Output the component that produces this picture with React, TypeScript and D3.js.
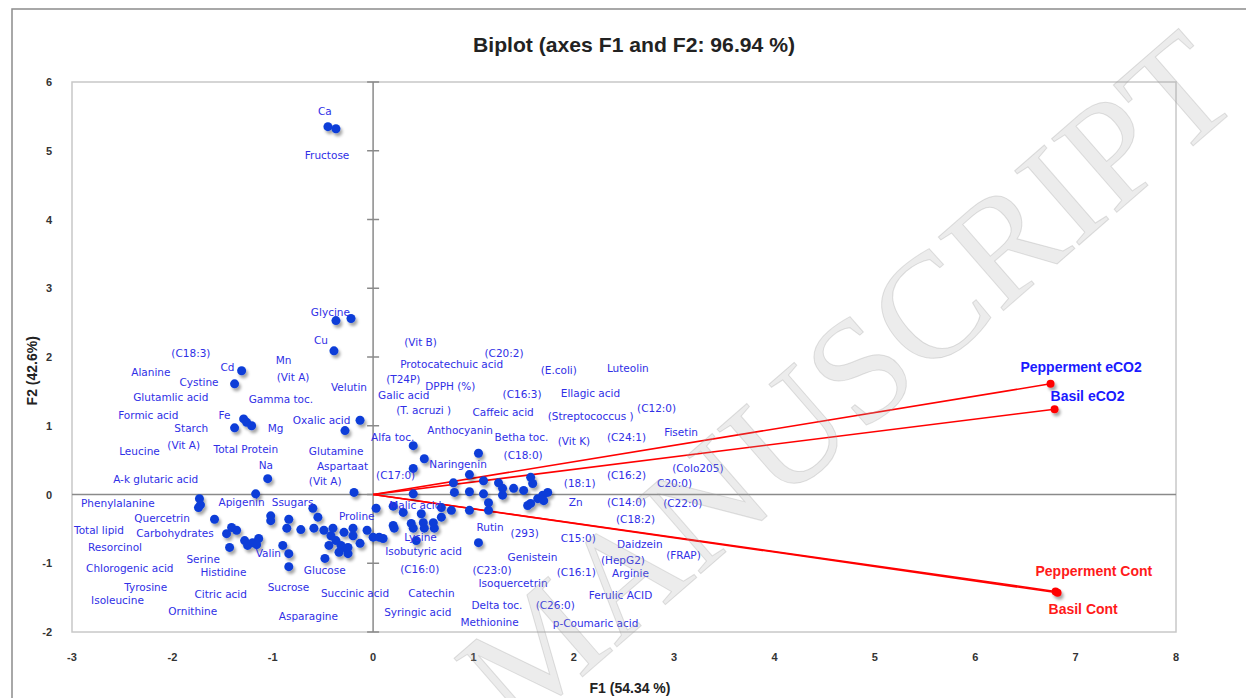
import React from "react";
import * as d3 from "d3";

// ---- axis ticks ----
const xTicks = [-3, -2, -1, 0, 1, 2, 3, 4, 5, 6, 7, 8];
const yTicks = [-2, -1, 0, 1, 2, 3, 4, 5, 6];

// ---- variables (F1, F2) ----
const varPoints: [number, number][] = [
  [-0.45, 5.35], [-0.37, 5.32], [-0.37, 2.53], [-0.22, 2.56], [-0.39, 2.09],
  [-1.31, 1.8], [-1.38, 1.61], [-1.29, 1.1], [-1.26, 1.05], [-1.21, 1.0],
  [-1.38, 0.97], [-0.13, 1.08], [-0.28, 0.93], [-1.05, 0.23], [-1.17, 0.01],
  [-0.19, 0.03], [-1.73, -0.06], [-1.72, -0.15], [-1.74, -0.19], [-1.58, -0.36],
  [-1.41, -0.48], [-1.36, -0.52], [-1.46, -0.57], [-1.43, -0.77], [-1.28, -0.67],
  [-1.25, -0.74], [-1.2, -0.7], [-1.14, -0.64], [-1.16, -0.73], [-1.02, -0.31],
  [-1.02, -0.38], [-0.84, -0.36], [-0.86, -0.49], [-0.72, -0.51], [-0.9, -0.74],
  [-0.84, -0.86], [-0.84, -1.05], [-0.6, -0.2], [-0.55, -0.33], [-0.59, -0.49],
  [-0.49, -0.52], [-0.42, -0.6], [-0.37, -0.67], [-0.32, -0.74], [-0.27, -0.78],
  [-0.44, -0.74], [-0.34, -0.84], [-0.4, -0.49], [-0.29, -0.55], [-0.48, -0.93],
  [-0.2, -0.49], [-0.2, -0.6], [-0.25, -0.77], [-0.25, -0.86], [-0.13, -0.71],
  [-0.06, -0.52], [0.0, -0.62], [0.1, -0.64], [0.03, -0.2],
  [0.4, 0.71], [0.51, 0.52], [0.4, 0.38], [0.4, 0.01], [1.05, 0.6],
  [0.96, 0.29], [0.8, 0.17], [0.81, 0.03], [0.96, 0.04], [1.1, 0.2],
  [1.1, 0.01], [1.25, 0.17], [1.29, 0.09], [1.29, -0.01], [1.4, 0.09],
  [1.5, 0.06], [1.57, 0.25], [1.59, 0.16], [1.54, -0.16], [1.57, -0.13],
  [1.64, -0.06], [1.69, -0.01], [1.74, 0.03], [1.7, -0.09], [1.15, -0.12],
  [1.15, -0.23], [0.96, -0.23], [0.78, -0.23], [0.68, -0.19], [0.68, -0.33],
  [1.05, -0.7], [0.48, -0.28], [0.5, -0.41], [0.51, -0.49], [0.6, -0.41],
  [0.61, -0.49], [0.38, -0.42], [0.4, -0.49], [0.43, -0.67], [0.3, -0.26],
  [0.2, -0.17], [0.2, -0.45], [0.06, -0.62], [0.21, -0.49],
];

// ---- variable labels (name, F1, F2 of label) ----
const varLabels: [string, number, number][] = [
  ["Ca", -0.55, 5.57], ["Fructose", -0.68, 4.93], ["Glycine", -0.62, 2.65],
  ["Cu", -0.59, 2.24], ["(C18:3)", -2.01, 2.05], ["Alanine", -2.41, 1.77],
  ["Cd", -1.52, 1.85], ["Mn", -0.97, 1.95], ["Cystine", -1.93, 1.63],
  ["(Vit A)", -0.96, 1.7], ["Velutin", -0.42, 1.56], ["Glutamlic acid", -2.39, 1.41],
  ["Gamma toc.", -1.24, 1.38], ["Formic  acid", -2.54, 1.15], ["Fe", -1.54, 1.15],
  ["Oxalic acid", -0.8, 1.08], ["Starch", -1.98, 0.96], ["Mg", -1.05, 0.96],
  ["Leucine", -2.53, 0.63], ["(Vit A)", -2.05, 0.71], ["Total Protein", -1.59, 0.65],
  ["Glutamine", -0.64, 0.63], ["Na", -1.14, 0.42], ["Aspartaat", -0.56, 0.41],
  ["A-k  glutaric acid", -2.59, 0.22], ["(Vit A)", -0.64, 0.19],
  ["Phenylalanine", -2.91, -0.13], ["Apigenin", -1.54, -0.12], ["Ssugars", -1.01, -0.12],
  ["Quercetrin", -2.38, -0.35], ["Proline", -0.34, -0.32], ["Total lipid", -2.98, -0.52],
  ["Carbohydrates", -2.36, -0.57], ["Resorcinol", -2.84, -0.77], ["Valin", -1.17, -0.86],
  ["Serine", -1.86, -0.94], ["Chlorogenic acid", -2.86, -1.08], ["Histidine", -1.72, -1.13],
  ["Glucose", -0.69, -1.1], ["Tyrosine", -2.48, -1.35], ["Sucrose", -1.05, -1.35],
  ["Succinic  acid", -0.52, -1.44], ["Citric acid", -1.78, -1.45], ["Isoleucine", -2.81, -1.54],
  ["Ornithine", -2.04, -1.7], ["Asparagine", -0.94, -1.77],
  ["(Vit B)", 0.31, 2.22], ["(C20:2)", 1.11, 2.05], ["Protocatechuic acid", 0.27, 1.89],
  ["(E.coli)", 1.67, 1.8], ["Luteolin", 2.33, 1.83], ["(T24P)", 0.13, 1.67],
  ["DPPH (%)", 0.52, 1.58], ["Galic acid", 0.05, 1.44], ["(C16:3)", 1.29, 1.45],
  ["Ellagic acid", 1.87, 1.47], ["(T. acruzi )", 0.23, 1.22], ["Caffeic acid", 0.99, 1.19],
  ["(Streptococcus )", 1.74, 1.13], ["(C12:0)", 2.63, 1.25], ["Anthocyanin", 0.54, 0.93],
  ["Alfa toc.", -0.02, 0.83], ["Betha toc.", 1.21, 0.83], ["(Vit K)", 1.84, 0.77],
  ["(C24:1)", 2.33, 0.83], ["Fisetin", 2.9, 0.9], ["(C18:0)", 1.3, 0.57],
  ["Naringenin", 0.56, 0.44], ["(C17:0)", 0.03, 0.28], ["(18:1)", 1.9, 0.16],
  ["(C16:2)", 2.33, 0.28], ["(Colo205)", 2.98, 0.38], ["C20:0)", 2.83, 0.16],
  ["Zn", 1.95, -0.12], ["(C14:0)", 2.33, -0.12], ["(C22:0)", 2.89, -0.13],
  ["(C18:2)", 2.42, -0.36], ["Malic acid", 0.16, -0.16], ["Rutin", 1.03, -0.48],
  ["(293)", 1.37, -0.57], ["C15:0)", 1.87, -0.64], ["Lysine", 0.31, -0.63],
  ["Daidzein", 2.43, -0.73], ["(FRAP)", 2.92, -0.89], ["Isobutyric acid", 0.12, -0.83],
  ["Genistein", 1.34, -0.92], ["(HepG2)", 2.27, -0.96], ["(C16:0)", 0.27, -1.09],
  ["(C23:0)", 0.99, -1.1], ["(C16:1)", 1.83, -1.13], ["Arginie", 2.38, -1.15],
  ["Isoquercetrin", 1.05, -1.29], ["Catechin", 0.35, -1.44], ["Ferulic ACID", 2.15, -1.47],
  ["Delta toc.", 0.98, -1.61], ["(C26:0)", 1.62, -1.61], ["Syringic acid", 0.11, -1.72],
  ["Methionine", 0.87, -1.86], ["p-Coumaric acid", 1.79, -1.88],
];

// ---- observations ----
const obsNames = ["Pepperment eCO2", "Basil eCO2", "Pepperment Cont", "Basil Cont"];
const obsF1 = [6.75, 6.79, 6.8, 6.82];
const obsF2 = [1.61, 1.24, -1.41, -1.43];
const obsLabelF1 = [6.45, 6.75, 6.6, 6.73];
const obsLabelF2 = [1.86, 1.43, -1.12, -1.67];
const obsLabelColor = ["#1a1aff", "#1a1aff", "#ff1a1a", "#ff1a1a"];

const W = 1246;
const H = 698;

export default function App() {
  const x = d3.scaleLinear().domain([-3, 8]).range([72, 1176]);
  const y = d3.scaleLinear().domain([-2, 6]).range([632, 82]);
  const labelFont = "'DejaVu Sans', Verdana, sans-serif";

  return (
    <svg
      width={W}
      height={H}
      style={{ position: "absolute", left: 0, top: 0, background: "#fff" }}
    >
      <defs>
        <filter id="shadow" x="-50%" y="-50%" width="200%" height="200%">
          <feDropShadow dx="2" dy="3" stdDeviation="1.5" floodColor="#000" floodOpacity="0.35" />
        </filter>
      </defs>

      {/* chart frame */}
      <rect x={12} y={9} width={W} height={H} fill="none" stroke="#8c8c8c" strokeWidth={1.5} />

      {/* title */}
      <text
        x={473}
        y={52}
        textLength={322}
        lengthAdjust="spacingAndGlyphs"
        fontFamily="'Liberation Sans Narrow', 'Arial Narrow', 'Liberation Sans', sans-serif"
        fontWeight="bold"
        fontSize={21}
        fill="#222"
      >
        Biplot (axes F1 and F2: 96.94 %)
      </text>

      {/* plot area */}
      <rect x={72} y={82} width={1104} height={550} fill="none" stroke="#c8c8c8" strokeWidth={1.5} />

      {/* zero lines */}
      <line x1={72} x2={1176} y1={y(0)} y2={y(0)} stroke="#8a8a8a" strokeWidth={1.5} />
      <line x1={x(0)} x2={x(0)} y1={82} y2={632} stroke="#8a8a8a" strokeWidth={1.5} />
      {yTicks.map((t) => (
        <line key={t} x1={x(0) - 6} x2={x(0) + 6} y1={y(t)} y2={y(t)} stroke="#8a8a8a" strokeWidth={1.5} />
      ))}

      {/* tick labels */}
      {yTicks.map((t) => (
        <text
          key={t}
          x={52}
          y={y(t) + 4}
          textAnchor="end"
          fontFamily="'Liberation Sans', Arial, sans-serif"
          fontWeight="bold"
          fontSize={11}
          fill="#333"
        >
          {t}
        </text>
      ))}
      {xTicks.map((t) => (
        <text
          key={t}
          x={x(t)}
          y={661}
          textAnchor="middle"
          fontFamily="'Liberation Sans', Arial, sans-serif"
          fontWeight="bold"
          fontSize={11}
          fill="#333"
        >
          {t}
        </text>
      ))}

      {/* axis titles */}
      <text
        x={630}
        y={693}
        textAnchor="middle"
        fontFamily="'Liberation Sans', Arial, sans-serif"
        fontWeight="bold"
        fontSize={14}
        fill="#222"
      >
        F1 (54.34 %)
      </text>
      <text
        transform={`translate(37,${y(1.8)}) rotate(-90)`}
        textAnchor="middle"
        fontFamily="'Liberation Sans', Arial, sans-serif"
        fontWeight="bold"
        fontSize={14}
        fill="#222"
      >
        F2 (42.6%)
      </text>

      {/* observation vectors */}
      {obsNames.map((n, i) => (
        <line key={n} x1={x(0)} y1={y(0)} x2={x(obsF1[i])} y2={y(obsF2[i])} stroke="#ff0000" strokeWidth={1.5} />
      ))}

      {/* variable points */}
      <g filter="url(#shadow)">
        {varPoints.map((p, i) => (
          <circle key={i} cx={x(p[0])} cy={y(p[1])} r={4.5} fill="#0a3dd8" />
        ))}
        {obsNames.map((n, i) => (
          <circle key={n} cx={x(obsF1[i])} cy={y(obsF2[i])} r={4} fill="#ff0000" />
        ))}
      </g>

      {/* variable labels */}
      {varLabels.map(([name, lx, ly], i) => (
        <text
          key={i}
          x={x(lx)}
          y={y(ly)}
          dy="0.35em"
          fontFamily={labelFont}
          fontSize={10.5}
          fill="#2f2fe6"
        >
          {name}
        </text>
      ))}

      {/* observation labels */}
      {obsNames.map((n, i) => (
        <text
          key={n}
          x={x(obsLabelF1[i])}
          y={y(obsLabelF2[i])}
          dy="0.35em"
          fontFamily="'Liberation Sans', Arial, sans-serif"
          fontWeight="bold"
          fontSize={14}
          fill={obsLabelColor[i]}
        >
          {n}
        </text>
      ))}

      {/* watermark */}
      <text
        transform="translate(880,418) rotate(-41)"
        textAnchor="middle"
        fontFamily="'Liberation Serif', 'DejaVu Serif', serif"
        fontSize={150}
        fill="#a0a0a0"
        fillOpacity={0.2}
        stroke="#a0a0a0"
        strokeOpacity={0.3}
        strokeWidth={1}
      >
        MANUSCRIPT
      </text>
    </svg>
  );
}
